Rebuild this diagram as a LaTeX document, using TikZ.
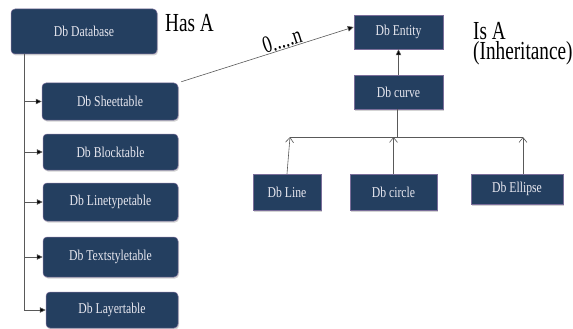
\documentclass[tikz,border=0pt]{standalone}
\usepackage{fontspec}
\usepackage{graphicx}
\setmainfont{Liberation Serif}
\usetikzlibrary{arrows.meta,shadows}
\definecolor{navy}{HTML}{243F60}
\definecolor{boxedge}{HTML}{7A6E9A}
\definecolor{boxtext}{HTML}{E8E8F0}
\newcommand\sq[1]{\scalebox{0.78}[1]{#1}}
\newcommand\sqb[1]{\scalebox{0.74}[1]{#1}}
\tikzset{
  basebox/.style={fill=navy, draw=boxedge, line width=0.5pt, text=boxtext,
    inner sep=0pt, font=\rmfamily\fontsize{15}{18}\selectfont,
    drop shadow={opacity=0.35, shadow xshift=1pt, shadow yshift=-1.5pt}},
  lbox/.style={basebox, rounded corners=4pt},
  rbox/.style={basebox},
  conn/.style={draw=black!65, line width=0.6pt},
  farr/.style={conn, -{Triangle[length=6pt,width=5.5pt,fill=black]}},
  oarr/.style={conn, -{Straight Barb[length=5pt,width=8pt,line width=0.6pt]}},
  biglabel/.style={font=\rmfamily\fontsize{26}{20}\selectfont, inner sep=0pt, anchor=base west}
}
\begin{document}
\begin{tikzpicture}[x=1pt,y=-1pt]
\useasboundingbox (0,0) rectangle (573,329);
% left column
\node[lbox, minimum width=146pt, minimum height=45pt] (db) at (84,31.5) {\sq{Db Database}};
\node[lbox, minimum width=136pt, minimum height=37pt] (sheet) at (110,101.5) {\sq{Db Sheettable}};
\node[lbox, minimum width=135pt, minimum height=36pt] (block) at (110.5,152) {\sq{Db Blocktable}};
\node[lbox, minimum width=135pt, minimum height=38pt] (linetype) at (110.5,202) {\sq{Db Linetypetable}};
\node[lbox, minimum width=135pt, minimum height=40pt] (textstyle) at (110.5,257) {\sq{Db Textstyletable}};
\node[lbox, minimum width=132pt, minimum height=36pt] (layer) at (112,310) {\sq{Db Layertable}};
% right side
\node[rbox, minimum width=89pt, minimum height=34pt] (entity) at (398.5,32) {\sq{Db Entity}};
\node[rbox, minimum width=89pt, minimum height=34pt] (curve) at (398.5,92) {\sq{Db curve}};
\node[rbox, minimum width=68pt, minimum height=36pt] (dline) at (287,192) {\sq{Db Line}};
\node[rbox, minimum width=87pt, minimum height=36pt] (circle) at (393.5,192) {\sq{Db circle}};
\node[rbox, minimum width=92pt, minimum height=30pt] (ellipse) at (517,189) {\sq{Db Ellipse}};
% labels
\node[biglabel] (hasa) at (165,32) {\sqb{Has A}};
\node[font=\rmfamily\fontsize{26}{20}\selectfont, inner sep=0pt, anchor=north west, align=left]
  (isa) at (473,22) {\sqb{Is A}\\\sqb{(Inheritance)}};
% left tree
\coordinate (trunk) at (24,54);
\draw[conn] (trunk) -- (trunk |- layer.west);
\foreach \n in {sheet,block,linetype,textstyle,layer}
  \draw[farr] (trunk |- \n.west) -- (\n.west);
% has-a connector
\draw[farr] ([xshift=3pt,yshift=1pt]sheet.north east) -- ([yshift=5pt]entity.west)
  node[pos=0.6, sloped, above, inner sep=0.5pt, font=\rmfamily\fontsize{24}{26}\selectfont] (mult) {\sqb{0.....n}};
% inheritance
\draw[farr] (curve.north) -- (entity.south);
\coordinate (bus) at (397,137);
\coordinate (elltop) at ([xshift=6pt]ellipse.north);
\draw[conn] (curve.south -| bus) -- (bus);
\draw[conn] ([xshift=3pt]dline.north |- bus) -- (elltop |- bus);
\draw[oarr] (dline.north) -- ([xshift=3pt]dline.north |- bus);
\draw[oarr] (circle.north) -- (circle.north |- bus);
\draw[oarr] (elltop) -- (elltop |- bus);
\end{tikzpicture}
\end{document}
